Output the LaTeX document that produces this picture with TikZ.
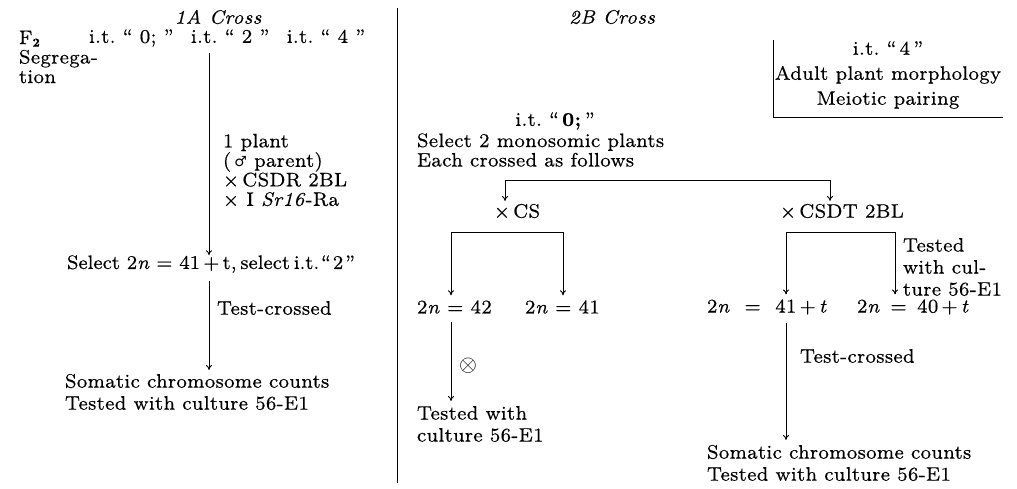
\RequirePackage{fix-cm}
\documentclass[tikz,border=0pt]{standalone}
\usepackage{fontspec}
\setmainfont{lmroman8-regular.otf}[BoldFont=lmroman8-bold.otf, ItalicFont=lmroman8-italic.otf, LetterSpace=2, FakeBold=0.4]
\newfontfamily\symfont{DejaVu Sans}
\usetikzlibrary{arrows.meta}
\newcommand{\tn}{\textit{n}}
\newcommand{\gap}{\hspace{0.9em}}
\begin{document}
\begin{tikzpicture}[x=1pt,y=-1pt,
  every node/.style={font=\fontsize{19.5}{19.5}\selectfont, inner sep=0pt, outer sep=0pt},
  ln/.style={line width=0.9pt},
  arr/.style={ln,-{To[length=5pt,width=6pt]}},
  darr/.style={ln,{To[length=5pt,width=6pt]}-{To[length=5pt,width=6pt]}},
  txt/.style={anchor=west, align=left}]
\useasboundingbox (0,0) rectangle (1017,488);
% ---------- left: 1A cross
\node (t1A) at (218,17) {\itshape 1A Cross};
\node[txt] (F2) at (19,57) {F\raisebox{-0.3ex}{\fontsize{12}{12}\selectfont\bfseries 2}\\Segrega-\\tion};
\node[txt] (itrow) at (89,38) {i.t.\ “\ 0;\ ”\gap i.t.\ “\ 2\ ”\gap i.t.\ “\ 4\ ”};
\coordinate (a1) at (209,50);
\node[txt] (plant) at (223,170) {1 plant\\(\,{\symfont\fontsize{14}{19.5}\selectfont ♂} parent)\\×\,CSDR 2BL\\×\ I \textit{Sr16}-Ra};
\node[txt] (sel) at (67,264) {\addfontfeature{LetterSpace=0}Select 2\tn\ =\ 41\,+\,t,\hspace{0.2em}select\hspace{0.2em}i.t.\hspace{0.1em}“\hspace{0.1em}2\hspace{0.1em}”};
\node[txt] (tc1) at (217,308) {Test-crossed};
\node[txt, font=\fontsize{19.5}{22}\selectfont] (som1) at (65,392) {Somatic chromosome counts\\Tested with culture 56-E1};
\draw[arr, shorten <=6pt] (itrow.south -| a1) -- (sel.north -| a1);
\draw[arr, shorten <=8pt, shorten >=4pt] (sel.south -| a1) -- (som1.north -| a1);
% ---------- divider
\coordinate (d1) at (397,8);
\coordinate (d2) at (397,483);
\draw[ln] (d1) -- (d2);
% ---------- right: 2B cross
\node (t2B) at (612,17) {\itshape 2B Cross};
\node[align=center, font=\fontsize{19.5}{25}\selectfont] (box) at (888,75) {i.t.\ “\,4\,”\\Adult plant morphology\\Meiotic pairing};
\coordinate (boxTL) at (773,40);
\coordinate (boxBR) at (1003,117);
\draw[ln] (boxTL) |- (boxBR);
\node (it0) at (555,121) {i.t.\ “\,\textbf{0;}\,”};
\node[txt] (selmono) at (417,150) {Select 2 monosomic plants\\Each crossed as follows};
\node (xcs) at (517,211) {×\,CS};
\node[txt] (xcsdt) at (780,211) {×\,CSDT 2BL};
\coordinate (bl1) at (505,180);
\coordinate (br1) at (830,180);
\draw[darr, shorten <=3pt, shorten >=3pt] (xcs.north -| bl1) -- (bl1) -- (br1) -- (xcsdt.north -| br1);
\node[txt] (n42) at (417,307) {2\tn\ =\ 42};
\node[txt] (n41) at (525,307) {2\tn\ =\ 41};
\coordinate (cl) at (451,232);
\coordinate (cr) at (563,232);
\draw[darr, shorten <=5pt, shorten >=5pt] (n42.north -| cl) -- (cl) -- (cr) -- (n41.north -| cr);
\node[txt] (n41t) at (707,307) {2\tn\ \ =\ \ 41\,+\,\textit{t}};
\node[txt] (n40t) at (857,307) {2\tn\ \,=\ \,40\,+\,\textit{t}};
\coordinate (dl) at (786,232);
\coordinate (dr) at (895,232);
\draw[darr, shorten <=5pt, shorten >=5pt] (n41t.north -| dl) -- (dl) -- (dr) -- (n40t.north -| dr);
\node[txt, font=\fontsize{19.5}{22}\selectfont] (tw) at (903,267) {Tested\\with cul-\\ture 56-E1};
\node[txt, font=\fontsize{19.5}{22}\selectfont] (tw2) at (417,424) {Tested with\\culture 56-E1};
\draw[arr, shorten <=8pt, shorten >=5pt] (n42.south -| cl) -- (tw2.north -| cl);
\node (ox) at (468,366) {\fontsize{23}{23}\selectfont$\otimes$};
\node[txt] (tc2) at (800,356) {Test-crossed};
\node[txt, font=\fontsize{19.5}{22}\selectfont] (som2) at (707,463) {Somatic chromosome counts\\Tested with culture 56-E1};
\draw[arr, shorten <=8pt, shorten >=5pt] (n41t.south -| dl) -- (som2.north -| dl);
\end{tikzpicture}
\end{document}
